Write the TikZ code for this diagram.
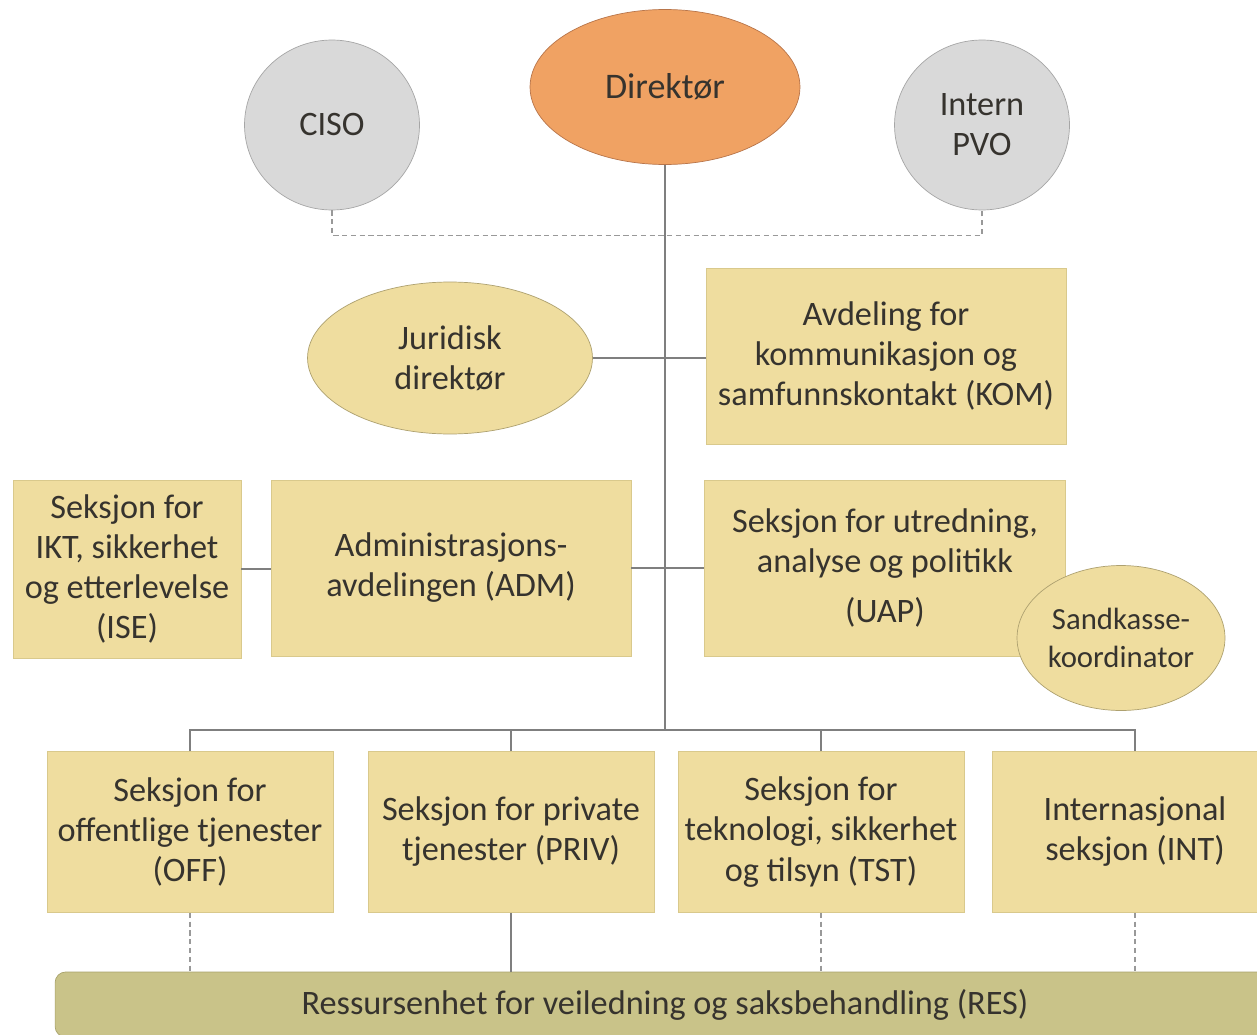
\documentclass[tikz,border=0pt]{standalone}
\usepackage{fontspec}
\setmainfont{Carlito}
\usepackage{tikz}
\usetikzlibrary{shapes.geometric,positioning,calc}
\definecolor{unitfill}{HTML}{EFDD9F}
\definecolor{unitline}{HTML}{D9C98C}
\definecolor{resfill}{HTML}{C9C389}
\definecolor{resline}{HTML}{A9A36C}
\definecolor{headfill}{HTML}{F0A263}
\definecolor{headline}{HTML}{B8754A}
\definecolor{stafffill}{HTML}{D9D9D9}
\definecolor{staffline}{HTML}{A6A6A6}
\definecolor{textgray}{HTML}{36332E}
\definecolor{linkgray}{HTML}{7F7F7F}
\tikzset{
  unitbox/.style={rectangle, draw=unitline, fill=unitfill, align=center, inner sep=2pt},
  unitoval/.style={ellipse, draw=unitline!80!black, fill=unitfill, align=center, inner sep=0pt},
  headoval/.style={ellipse, draw=headline, fill=headfill, inner sep=0pt, minimum width=5.4cm, minimum height=3.1cm, font=\fontsize{20.5}{24}\selectfont},
  staffoval/.style={ellipse, draw=staffline, fill=stafffill, align=center, inner sep=0pt, minimum width=3.5cm, minimum height=3.4cm},
  resbox/.style={rectangle, rounded corners=6pt, draw=resline, fill=resfill, minimum width=24.4cm, minimum height=1.3cm},
  link/.style={draw=linkgray, line width=0.6pt},
  dashlink/.style={draw=linkgray!80, line width=0.6pt, dash pattern=on 3pt off 2pt}
}

\begin{document}
\begin{tikzpicture}[x=0.02cm, y=-0.02cm, text=textgray, font=\fontsize{19.5}{22.8}\selectfont]
  \useasboundingbox[fill=white] (0,0) rectangle (1257,1034);
  \clip (0,0) rectangle (1257,1034);
  % top level
  \node[headoval] (dir) at (665,87) {Direktør};
  \node[staffoval] (ciso) at (332,125) {CISO};
  \node[staffoval] (pvo) at (982,125) {Intern\\PVO};
  \coordinate (bus) at (665,730);
  \draw[link] (dir.south) -- (bus);
  \draw[dashlink] (ciso.south) -- ++(0,25) -| (pvo.south);
  % staff and departments
  \node[unitoval, minimum width=5.7cm, minimum height=3.04cm] (jur) at (450,358) {Juridisk\\direktør};
  \node[unitbox, minimum width=7.2cm, minimum height=3.52cm] (kom) at (886,356) {Avdeling for\\kommunikasjon og\\samfunnskontakt (KOM)};
  \node[unitbox, minimum width=7.2cm, minimum height=3.52cm] (adm) at (451,568) {Administrasjons-\\avdelingen (ADM)};
  \node[unitbox, minimum width=4.56cm, minimum height=3.56cm] (ise) at (127,569) {Seksjon for\\IKT, sikkerhet\\og etterlevelse\\(ISE)};
  \node[unitbox, minimum width=7.22cm, minimum height=3.52cm] (uap) at (885,568) {Seksjon for utredning,\\analyse og politikk\\[0.2cm](UAP)};
  \node[unitoval, minimum width=4.16cm, minimum height=2.9cm, font=\fontsize{17.5}{22}\selectfont] (sand) at (1121,638) {Sandkasse-\\koordinator};
  \draw[link] (jur.east) -- (jur.east -| kom.west);
  \draw[link] (ise.east) -- (ise.east -| adm.west);
  \draw[link] (adm.east) -- (uap.west);
  % sections
  \node[unitbox, minimum width=5.72cm, minimum height=3.22cm] (off) at (190,832) {Seksjon for\\offentlige tjenester\\(OFF)};
  \node[unitbox, minimum width=5.72cm, minimum height=3.22cm] (priv) at (511,832) {Seksjon for private\\tjenester (PRIV)};
  \node[unitbox, minimum width=5.72cm, minimum height=3.22cm] (tst) at (821,832) {Seksjon for\\teknologi, sikkerhet\\og tilsyn (TST)};
  \node[unitbox, minimum width=5.72cm, minimum height=3.22cm] (int) at (1135,832) {Internasjonal\\seksjon (INT)};
  \draw[link] (off.north) |- (bus) -| (int.north);
  \draw[link] (priv.north) -- ++(0,-22);
  \draw[link] (tst.north) -- ++(0,-22);
  % resource unit
  \node[resbox] (res) at (665,1004.5) {Ressursenhet for veiledning og saksbehandling (RES)};
  \draw[dashlink] (off.south) -- (off.south |- res.north);
  \draw[link] (priv.south) -- (priv.south |- res.north);
  \draw[dashlink] (tst.south) -- (tst.south |- res.north);
  \draw[dashlink] (int.south) -- (int.south |- res.north);
\end{tikzpicture}
\end{document}
